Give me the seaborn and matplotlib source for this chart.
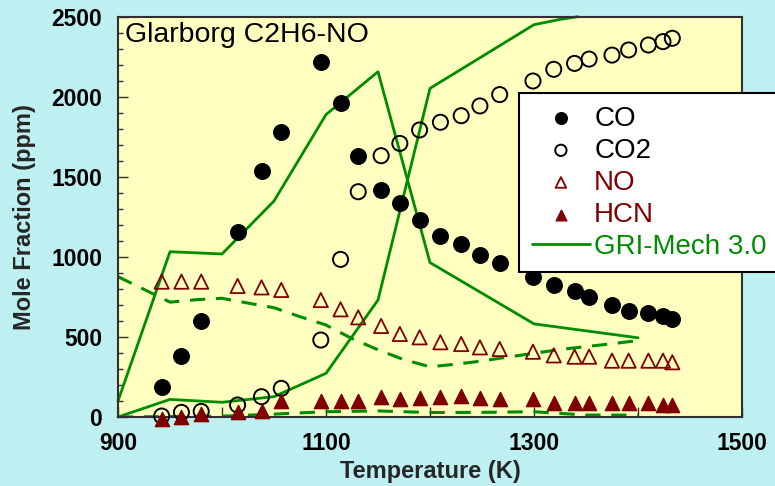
import matplotlib
matplotlib.use("Agg")
import matplotlib.pyplot as plt
import seaborn as sns
from matplotlib.ticker import MultipleLocator

# ---------------- data ----------------
temps = [942, 961, 980, 1015, 1038, 1057, 1095, 1114, 1131, 1153, 1171, 1190, 1210,
         1230, 1248, 1267, 1299, 1319, 1339, 1353, 1375, 1391, 1410, 1424, 1433]
co = [186, 381, 602, 1158, 1537, 1783, 2221, 1964, 1633, 1419, 1335, 1231, 1131,
      1081, 1012, 960, 873, 825, 787, 752, 700, 662, 652, 631, 610]
co2 = [6, 29, 35, 75, 127, 179, 481, 985, 1408, 1633, 1710, 1794, 1842,
       1883, 1944, 2015, 2100, 2173, 2210, 2237, 2262, 2294, 2325, 2346, 2367]
no = [846, 846, 846, 819, 810, 794, 731, 673, 623, 569, 519, 498, 467,
      456, 435, 425, 408, 385, 377, 377, 352, 352, 352, 352, 342]
hcn = [-10, -2, 17, 29, 40, 100, 100, 100, 100, 123, 112, 117, 123,
       133, 121, 110, 110, 85, 85, 85, 85, 85, 85, 75, 75]

model_co_t = [900, 950, 1000, 1050, 1100, 1150, 1200, 1300, 1400]
model_co = [100, 1033, 1019, 1350, 1890, 2158, 965, 582, 495]
model_co2_t = [900, 950, 1000, 1050, 1100, 1150, 1200, 1300, 1325, 1342]
model_co2 = [0, 110, 92, 127, 273, 731, 2054, 2452, 2485, 2502]
model_no_t = [900, 950, 975, 1000, 1025, 1050, 1075, 1100, 1125, 1150, 1175, 1200,
              1225, 1250, 1275, 1300, 1325, 1350, 1375, 1400]
model_no = [877, 718, 733, 742, 712, 683, 627, 575, 490, 420, 358, 314,
            330, 350, 375, 398, 422, 440, 458, 478]
model_hcn_t = [900, 1000, 1050, 1100, 1150, 1200, 1250, 1300, 1350, 1400]
model_hcn = [0, 5, 18, 33, 38, 28, 29, 33, 12, 12]

x_ticks = [900, 1000, 1100, 1200, 1300, 1400, 1500]
x_tick_labels = ["900", "", "1100", "", "1300", "", "1500"]
y_ticks = [0, 500, 1000, 1500, 2000, 2500]
y_tick_labels = ["0", "500", "1000", "1500", "2000", "2500"]

title_text = "Glarborg C2H6-NO"
model_label = "GRI-Mech 3.0"

# ---------------- style ----------------
sns.set_style("ticks")
plt.rcParams["font.family"] = ["Liberation Sans", "DejaVu Sans"]

BG = "#bef0f1"
AX_BG = "#ffffc0"
GREEN = "#008c00"
DARKRED = "#800000"

fig = plt.figure(figsize=(7.75, 4.86), dpi=100, facecolor=BG)
ax = fig.add_axes([118 / 775, 1 - 417 / 486, 624 / 775, 400 / 486])
ax.set_facecolor(AX_BG)

# model lines
sns.lineplot(x=model_co_t, y=model_co, ax=ax, color=GREEN, linewidth=2.0,
             sort=False, estimator=None, label=model_label, clip_on=False, zorder=2)
sns.lineplot(x=model_co2_t, y=model_co2, ax=ax, color=GREEN, linewidth=2.0,
             sort=False, estimator=None, clip_on=False, zorder=2)
sns.lineplot(x=model_no_t, y=model_no, ax=ax, color=GREEN, linewidth=2.2,
             linestyle=(0, (5, 3.5)), sort=False, estimator=None, zorder=2)
sns.lineplot(x=model_hcn_t, y=model_hcn, ax=ax, color=GREEN, linewidth=2.2,
             linestyle=(0, (5, 3.5)), sort=False, estimator=None, zorder=2)

# measured data
sns.scatterplot(x=temps, y=co, ax=ax, marker="o", s=125, color="black",
                edgecolor="black", linewidth=1.0, label="CO", clip_on=False, zorder=5)
sns.scatterplot(x=temps, y=co2, ax=ax, marker="o", s=118, color="black",
                edgecolor="black", linewidth=1.4, label="CO2", clip_on=False, zorder=5)
ax.collections[-1].set_facecolor("none")
sns.scatterplot(x=temps, y=no, ax=ax, marker="^", s=105, color=DARKRED,
                edgecolor=DARKRED, linewidth=1.3, label="NO", clip_on=False, zorder=5)
ax.collections[-1].set_facecolor("none")
sns.scatterplot(x=temps, y=hcn, ax=ax, marker="^", s=105, color=DARKRED,
                edgecolor=DARKRED, linewidth=1.0, label="HCN", clip_on=False, zorder=5)

# axes
ax.set_xlim(900, 1500)
ax.set_ylim(0, 2500)
ax.set_xticks(x_ticks)
ax.set_xticklabels(x_tick_labels)
ax.set_yticks(y_ticks)
ax.set_yticklabels(y_tick_labels)
ax.yaxis.set_minor_locator(MultipleLocator(100))
ax.tick_params(axis="both", which="both", direction="in", colors="#303030",
               labelcolor="black", top=False, right=False)
ax.tick_params(axis="both", which="major", length=7, width=1.0, labelsize=16.5)
ax.tick_params(axis="y", which="minor", length=3.6, width=1.0)
ax.tick_params(axis="y", which="major", pad=11.5)
ax.tick_params(axis="x", which="major", pad=10.5)
for lab in ax.get_xticklabels() + ax.get_yticklabels():
    lab.set_fontweight("bold")
for sp in ax.spines.values():
    sp.set_visible(True)
    sp.set_color("#303030")
    sp.set_linewidth(1.5)

ax.set_xlabel("Temperature (K)", fontsize=17, fontweight="bold")
ax.set_ylabel("Mole Fraction (ppm)", fontsize=17, fontweight="bold")
ax.xaxis.set_label_coords(0.5, -0.108)
ax.yaxis.set_label_coords(-0.131, 0.5)

ax.text(0.011, 0.988, title_text, transform=ax.transAxes, ha="left", va="top",
        fontsize=20.5, color="black", zorder=6)

# legend
handles, labels = ax.get_legend_handles_labels()
order = ["CO", "CO2", "NO", "HCN", model_label]
hmap = dict(zip(labels, handles))
leg = ax.legend([hmap[k] for k in order], order, loc="upper left",
                bbox_to_anchor=(0.643, 0.81), borderaxespad=0, fontsize=20,
                frameon=True, fancybox=False, framealpha=1, facecolor="white",
                edgecolor="black", labelspacing=0.22, handlelength=2.1,
                handletextpad=0.15, borderpad=0.45, markerscale=0.75,
                labelcolor=["black", "black", DARKRED, DARKRED, GREEN])
leg.get_frame().set_linewidth(1.5)
leg.set_zorder(10)

fig.savefig("out.png", dpi=100, facecolor=BG)
